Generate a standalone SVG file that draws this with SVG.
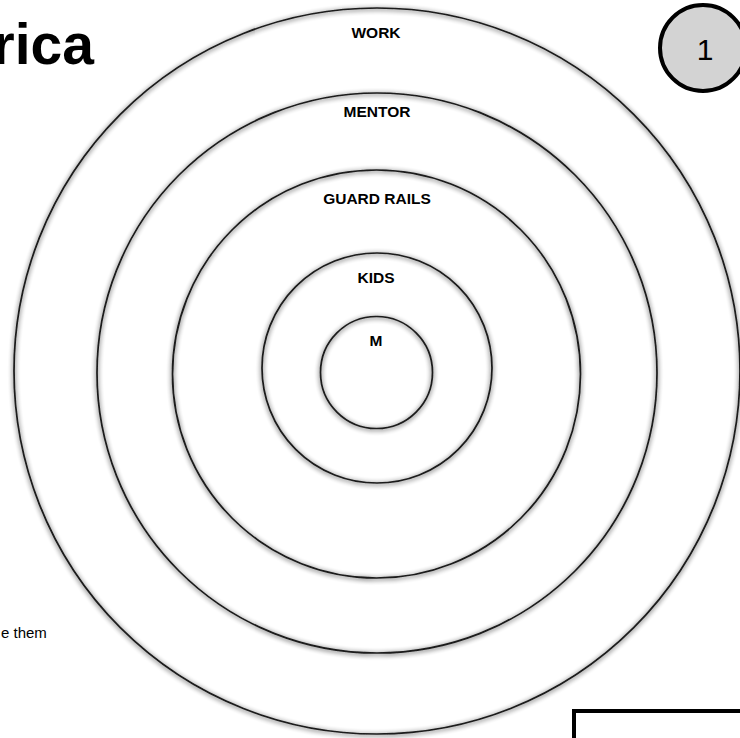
<svg xmlns="http://www.w3.org/2000/svg" width="740" height="738" viewBox="0 0 740 738">
<defs>
<filter id="glow" x="-10%" y="-10%" width="120%" height="120%">
<feGaussianBlur in="SourceAlpha" stdDeviation="2.6" result="b"/>
<feOffset in="b" dx="0" dy="1" result="o"/>
<feComponentTransfer in="o" result="s"><feFuncA type="linear" slope="0.9"/></feComponentTransfer>
<feMerge><feMergeNode in="s"/><feMergeNode in="SourceGraphic"/></feMerge>
</filter>
</defs>
<style>
.ring{fill:none;stroke:#1a1a1a;stroke-width:1.7;filter:url(#glow)}
.lbl{font-family:"Liberation Sans",Arial,sans-serif;font-weight:bold;font-size:15.5px;fill:#000;text-anchor:middle}
</style>
<rect width="740" height="738" fill="#fff"/>
<text x="94" y="64" font-family="Liberation Sans,Arial,sans-serif" font-weight="bold" font-size="57" text-anchor="end" fill="#000">rica</text>
<text x="1" y="638" font-family="Liberation Sans,Arial,sans-serif" font-size="15" fill="#000">e them</text>
<g id="work"><circle class="ring" cx="377" cy="371" r="363"/><text class="lbl" x="376" y="38">WORK</text></g>
<g id="mentor"><circle class="ring" cx="377" cy="373" r="280"/><text class="lbl" x="377" y="117">MENTOR</text></g>
<g id="guardrails"><circle class="ring" cx="376.5" cy="374" r="204"/><text class="lbl" x="377" y="204">GUARD RAILS</text></g>
<g id="kids"><circle class="ring" cx="377" cy="368" r="115"/><text class="lbl" x="376" y="283">KIDS</text></g>
<g id="m"><circle class="ring" cx="376.5" cy="372.5" r="56"/><text class="lbl" x="376" y="346">M</text></g>
<g id="badge"><circle cx="703" cy="48" r="43" fill="#d3d3d3" stroke="#000" stroke-width="4"/><text x="705" y="60" font-family="Liberation Sans,Arial,sans-serif" font-size="30" text-anchor="middle" fill="#000">1</text></g>
<rect x="574" y="711" width="200" height="60" fill="none" stroke="#000" stroke-width="4"/>
</svg>
